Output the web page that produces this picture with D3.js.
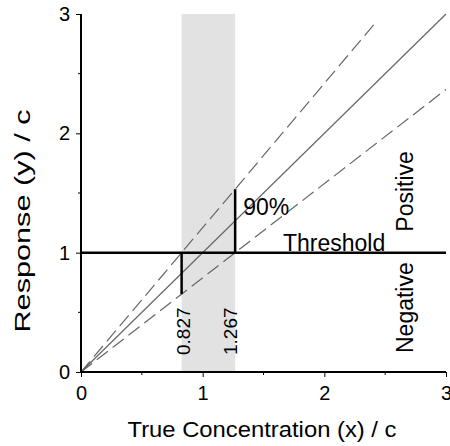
<!DOCTYPE html>
<html>
<head>
<meta charset="utf-8">
<script src="https://cdn.jsdelivr.net/npm/d3@7"></script>
<style>
  body { margin: 0; background: #fff; }
  text { font-family: "Liberation Sans", Arial, sans-serif; fill: #000; }
</style>
</head>
<body>
<div id="chart"></div>
<script>
// data
var xTicks = [0, 1, 2, 3];
var yTicks = [0, 1, 2, 3];
var minorTicks = [0.5, 1.5, 2.5];
var threshold = 1;
var lowLimit = 0.827;   // x where upper bound hits threshold
var highLimit = 1.267;  // x where lower bound hits threshold
// response lines: slope, x end
var lineSlopes = [1, 1 / lowLimit, 1 / highLimit];
var lineEnds = [3, 2.42, 3];
var lineDashed = [false, true, true];
var limitLabels = ["0.827", "1.267"];

var width = 450, height = 446;
var margin = {top: 14, right: 4, bottom: 74, left: 81};

var svg = d3.select("#chart")
    .append("svg")
    .attr("width", width)
    .attr("height", height);

var x = d3.scaleLinear().domain([0, 3]).range([margin.left, width - margin.right]);
var y = d3.scaleLinear().domain([0, 3]).range([height - margin.bottom, margin.top]);

// shaded band between the limits
svg.append("rect")
    .attr("x", x(lowLimit))
    .attr("y", y(3))
    .attr("width", x(highLimit) - x(lowLimit))
    .attr("height", y(0) - y(3))
    .attr("fill", "#e2e2e2");

// the three lines through the origin
var lineData = lineSlopes.map(function (s, i) {
    return {slope: s, end: lineEnds[i], dashed: lineDashed[i]};
});
svg.selectAll(".resp")
    .data(lineData)
    .enter().append("line")
    .attr("class", "resp")
    .attr("x1", x(0))
    .attr("y1", y(0))
    .attr("x2", function (d) { return x(d.end); })
    .attr("y2", function (d) { return y(d.end * d.slope); })
    .attr("stroke", "#666")
    .attr("stroke-width", 1.2)
    .attr("stroke-dasharray", function (d) { return d.dashed ? "14,6" : null; });

// threshold
svg.append("line")
    .attr("x1", x(0)).attr("x2", x(3))
    .attr("y1", y(threshold)).attr("y2", y(threshold))
    .attr("stroke", "#000").attr("stroke-width", 2.5);

// vertical bars at the limits
svg.append("line")
    .attr("x1", x(lowLimit)).attr("x2", x(lowLimit))
    .attr("y1", y(threshold)).attr("y2", y(lowLimit * lineSlopes[2]))
    .attr("stroke", "#000").attr("stroke-width", 2.5);
svg.append("line")
    .attr("x1", x(highLimit)).attr("x2", x(highLimit))
    .attr("y1", y(threshold)).attr("y2", y(highLimit * lineSlopes[1]))
    .attr("stroke", "#000").attr("stroke-width", 2.5);

// axes
var xAxis = svg.append("g")
    .attr("transform", "translate(0," + y(0) + ")")
    .call(d3.axisBottom(x).tickValues(xTicks).tickFormat(d3.format("d")).tickSize(5).tickPadding(9));
xAxis.append("g").selectAll("line")
    .data(minorTicks).enter().append("line")
    .attr("x1", function (d) { return x(d); }).attr("x2", function (d) { return x(d); })
    .attr("y1", 0).attr("y2", 3).attr("stroke", "#000");

var yAxis = svg.append("g")
    .attr("transform", "translate(" + x(0) + ",0)")
    .call(d3.axisLeft(y).tickValues(yTicks).tickFormat(d3.format("d")).tickSize(5).tickPadding(6));
yAxis.append("g").selectAll("line")
    .data(minorTicks).enter().append("line")
    .attr("y1", function (d) { return y(d); }).attr("y2", function (d) { return y(d); })
    .attr("x1", 0).attr("x2", -3).attr("stroke", "#000");

xAxis.select(".domain").remove();
yAxis.select(".domain").remove();
svg.append("line")
    .attr("x1", x(0)).attr("x2", x(3)).attr("y1", y(0)).attr("y2", y(0))
    .attr("stroke", "#000").attr("stroke-width", 2);
svg.append("line")
    .attr("x1", x(0)).attr("x2", x(0)).attr("y1", y(0)).attr("y2", y(3))
    .attr("stroke", "#000").attr("stroke-width", 2);

svg.selectAll(".tick text")
    .style("font-size", "20px")
    .style("font-family", "'Liberation Sans', Arial, sans-serif");

// axis titles
svg.append("text")
    .attr("x", 262).attr("y", 437)
    .attr("text-anchor", "middle")
    .attr("textLength", 269).attr("lengthAdjust", "spacingAndGlyphs")
    .style("font-size", "22px")
    .text("True Concentration (x) / c");
svg.append("text")
    .attr("transform", "translate(30,221) rotate(-90)")
    .attr("text-anchor", "middle")
    .attr("textLength", 223).attr("lengthAdjust", "spacingAndGlyphs")
    .style("font-size", "22px")
    .text("Response (y) / c");

// annotations
svg.append("text")
    .attr("x", x(highLimit) + 8).attr("y", 215)
    .style("font-size", "23px")
    .text("90%");
svg.append("text")
    .attr("x", 283).attr("y", y(threshold) - 2)
    .style("font-size", "23px")
    .text("Threshold");
svg.append("text")
    .attr("transform", "translate(413," + (y(threshold) - 21) + ") rotate(-90)")
    .style("font-size", "23px")
    .text("Positive");
svg.append("text")
    .attr("transform", "translate(413," + 353 + ") rotate(-90)")
    .style("font-size", "23px")
    .text("Negative");

var limOffsets = [8.5, 2];
svg.selectAll(".limlab")
    .data([lowLimit, highLimit])
    .enter().append("text")
    .attr("class", "limlab")
    .attr("transform", function (d, i) { return "translate(" + (x(d) + limOffsets[i]) + ",355) rotate(-90)"; })
    .style("font-size", "19px")
    .text(function (d, i) { return limitLabels[i]; });
</script>
</body>
</html>
